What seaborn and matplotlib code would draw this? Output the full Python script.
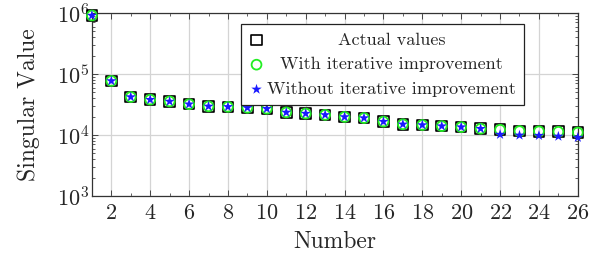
import matplotlib
matplotlib.use("Agg")
import matplotlib.pyplot as plt
from matplotlib.ticker import LogLocator, MultipleLocator, NullFormatter
import pandas as pd
import seaborn as sns

# values
number = list(range(1, 27))
actual = [9.1e5, 7.7e4, 4.2e4, 3.8e4, 3.55e4, 3.2e4, 2.95e4, 2.9e4, 2.8e4,
          2.7e4, 2.35e4, 2.25e4, 2.14e4, 1.98e4, 1.9e4, 1.66e4, 1.5e4,
          1.46e4, 1.4e4, 1.35e4, 1.27e4, 1.22e4, 1.16e4, 1.15e4, 1.13e4,
          1.1e4]
with_improvement = [9.1e5, 7.7e4, 4.2e4, 3.8e4, 3.55e4, 3.2e4, 2.95e4, 2.9e4,
                    2.8e4, 2.7e4, 2.35e4, 2.25e4, 2.14e4, 1.98e4, 1.9e4,
                    1.66e4, 1.5e4, 1.46e4, 1.4e4, 1.35e4, 1.27e4, 1.22e4,
                    1.16e4, 1.15e4, 1.13e4, 1.1e4]
without_improvement = [9.1e5, 7.7e4, 4.2e4, 3.8e4, 3.55e4, 3.2e4, 2.95e4,
                       2.9e4, 2.8e4, 2.7e4, 2.35e4, 2.25e4, 2.14e4, 1.98e4,
                       1.9e4, 1.66e4, 1.5e4, 1.46e4, 1.4e4, 1.35e4, 1.27e4,
                       1.02e4, 9.9e3, 9.8e3, 9.5e3, 9.1e3]
x_ticks = list(range(2, 27, 2))

sns.set_theme(style="ticks")
plt.rcParams["font.family"] = ["cmr10"]
plt.rcParams["mathtext.fontset"] = "cm"
plt.rcParams["axes.unicode_minus"] = False
plt.rcParams["axes.formatter.use_mathtext"] = True

df = pd.DataFrame({"number": number, "actual": actual,
                   "with": with_improvement, "without": without_improvement})

fig = plt.figure(figsize=(5.89, 2.60), dpi=100)
ax = fig.add_axes([0.156, 0.246, 0.825, 0.704])

sns.scatterplot(data=df, x="number", y="actual", marker="s", s=58,
                facecolors="none", edgecolor="black", linewidth=1.2,
                label="Actual values", clip_on=False, zorder=3, ax=ax)
sns.scatterplot(data=df, x="number", y="with", marker="o", s=50,
                facecolors="none", edgecolor="#22ee22", linewidth=1.3,
                label="With iterative improvement", clip_on=False, zorder=4,
                ax=ax)
sns.scatterplot(data=df, x="number", y="without", marker="*", s=62,
                color="#1a1aff", edgecolor="none", linewidth=0,
                label="Without iterative improvement", clip_on=False,
                zorder=5, ax=ax)

ax.set_yscale("log")
ax.set_xlim(1, 26)
ax.set_ylim(1e3, 1e6)
ax.set_xticks(x_ticks)
ax.xaxis.set_minor_locator(MultipleLocator(1))
ax.yaxis.set_major_locator(LogLocator(base=10, numticks=10))
ax.yaxis.set_minor_locator(LogLocator(base=10, subs=range(2, 10), numticks=20))
ax.yaxis.set_minor_formatter(NullFormatter())
ax.grid(True, which="major", color="#d4d4d4", linewidth=0.9, zorder=0)
ax.set_axisbelow(True)
ax.tick_params(which="both", direction="in", top=True, right=True,
               labelsize=16, color="#444444")
ax.tick_params(axis="x", pad=5)
ax.tick_params(axis="y", pad=2)
ax.tick_params(which="major", length=4, width=0.7)
ax.tick_params(which="minor", length=2.5, width=0.6)
for sp in ax.spines.values():
    sp.set_color("#333333")
    sp.set_linewidth(0.9)

ax.set_xlabel("Number", fontsize=17, labelpad=6)
ax.set_ylabel("Singular Value", fontsize=17, labelpad=12)

leg = ax.legend(loc="upper right", bbox_to_anchor=(0.89, 0.94),
                borderaxespad=0, fontsize=13, frameon=True, fancybox=False,
                edgecolor="#222222", framealpha=1, borderpad=0.45,
                handlelength=0.8, handletextpad=0.2, labelspacing=0.5)
leg.get_frame().set_linewidth(0.9)

# centre the legend texts in their column, like the original
fig.canvas.draw()
texts = leg.get_texts()
widths = [t.get_window_extent().width for t in texts]
wmax = max(widths)
for t, w in zip(texts, widths):
    t.set_x((wmax - w) / 2)

fig.savefig("out.png", dpi=100)
